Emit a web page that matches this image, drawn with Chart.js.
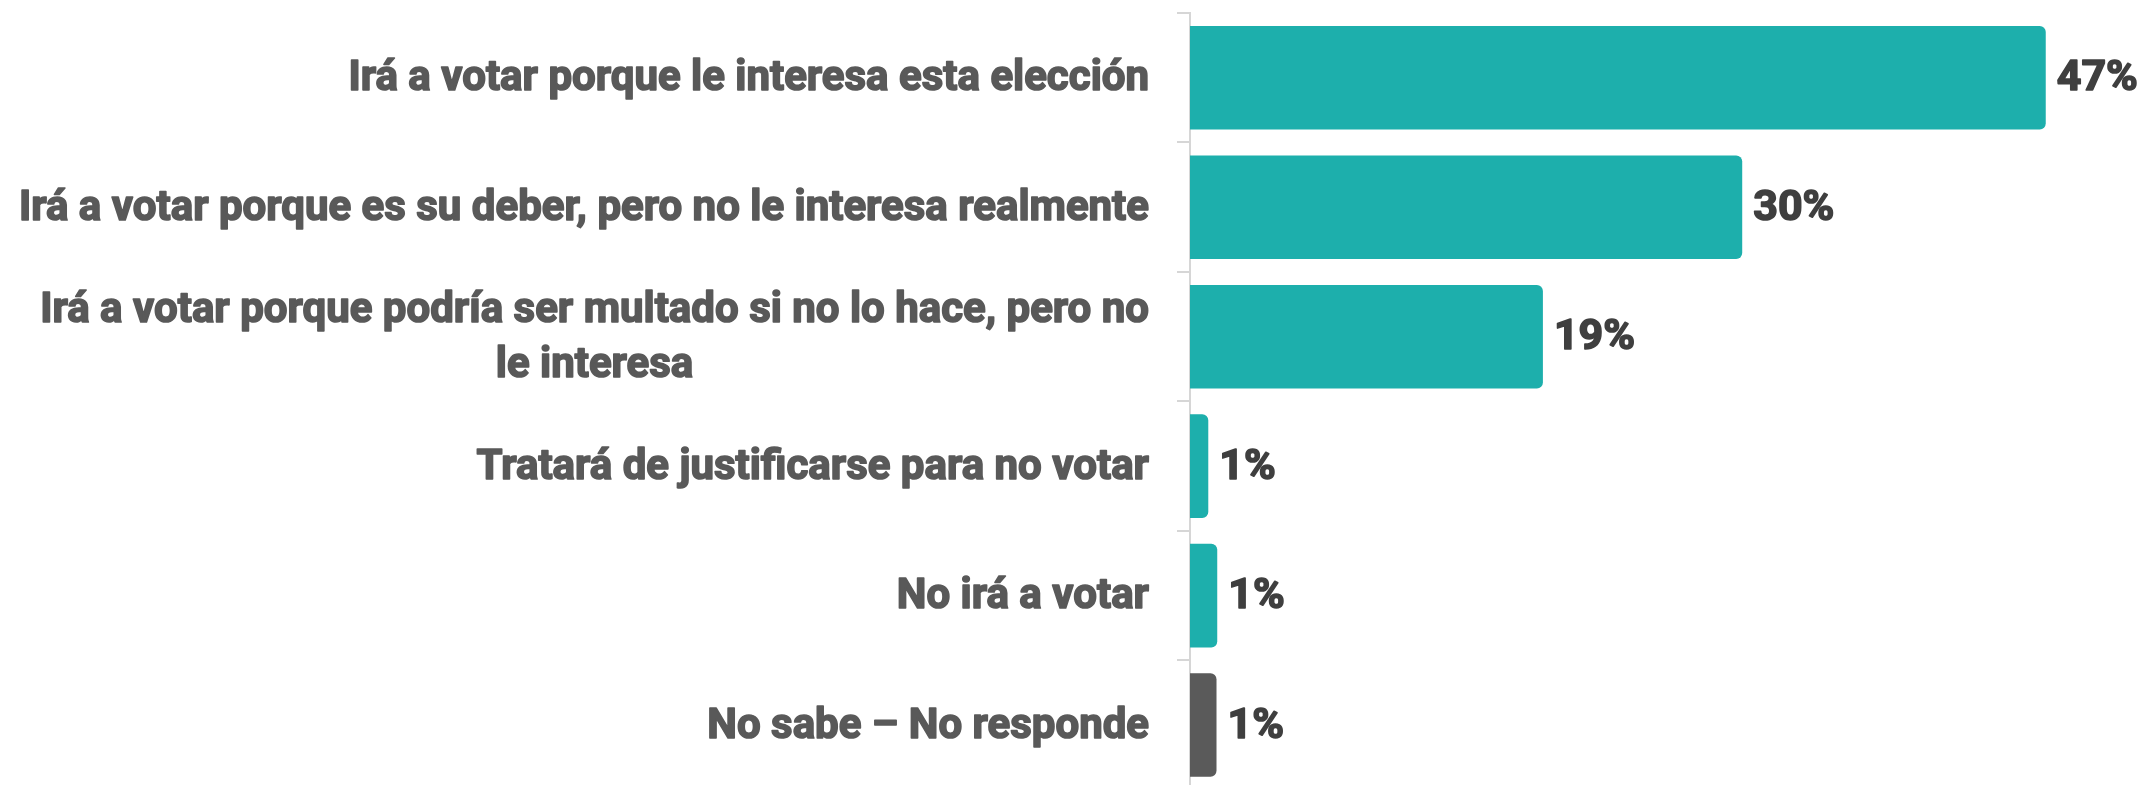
<!DOCTYPE html>
<html>
<head>
<meta charset="utf-8">
<script src="https://cdn.jsdelivr.net/npm/chart.js@4.4.1/dist/chart.umd.min.js"></script>
<style>
  html, body { margin: 0; padding: 0; background: #fff; overflow: hidden; }
  .wrap { position: relative; width: 2139px; height: 800px; }
</style>
</head>
<body>
<div class="wrap"><canvas id="chart"></canvas></div>
<script>
const categories = [
    ["Irá a votar porque le interesa esta elección"],
    ["Irá a votar porque es su deber, pero no le interesa realmente"],
    ["Irá a votar porque podría ser multado si no lo hace, pero no", "le interesa"],
    ["Tratará de justificarse para no votar"],
    ["No irá a votar"],
    ["No sabe – No responde"]
];
const values = [46.8, 30.2, 19.3, 1.0, 1.49, 1.45];
const barColors = ["#1dafac", "#1dafac", "#1dafac", "#1dafac", "#1dafac", "#5a5a5a"];

const labelFont = "bold 42px Roboto";
const valueFont = "bold 43px Roboto";

// draws the category labels (lines centred within a right-aligned block) and the value labels
const textPlugin = {
    id: "texts",
    afterDatasetsDraw(chart) {
        const { ctx } = chart;
        const yScale = chart.scales.y;
        const right = chart.chartArea.left - 41;
        ctx.save();
        ctx.textBaseline = "middle";
        ctx.lineJoin = "round";
        ctx.fillStyle = "#595959";
        ctx.strokeStyle = "#595959";
        ctx.lineWidth = 1.6;
        ctx.font = labelFont;
        categories.forEach((lines, i) => {
            const y = yScale.getPixelForTick(i);
            const blockW = Math.max(...lines.map((l) => ctx.measureText(l).width));
            const lh = 55;
            const y0 = y - (lines.length - 1) * lh / 2 + 2;
            lines.forEach((l, j) => {
                ctx.textAlign = "center";
                ctx.fillText(l, right - blockW / 2, y0 + j * lh);
                ctx.strokeText(l, right - blockW / 2, y0 + j * lh);
            });
        });
        ctx.font = valueFont;
        ctx.fillStyle = "#3f3f3f";
        ctx.strokeStyle = "#3f3f3f";
        ctx.textAlign = "left";
        chart.getDatasetMeta(0).data.forEach((bar, i) => {
            const txt = Math.round(values[i]) + "%";
            ctx.fillText(txt, bar.x + 11, bar.y + 2);
            ctx.strokeText(txt, bar.x + 11, bar.y + 2);
        });
        ctx.restore();
    }
};

new Chart(document.getElementById("chart"), {
    type: "bar",
    data: {
        labels: categories,
        datasets: [{
            data: values,
            backgroundColor: barColors,
            borderRadius: 6,
            borderSkipped: "start",
            barPercentage: 1,
            categoryPercentage: 0.8
        }]
    },
    options: {
        indexAxis: "y",
        responsive: true,
        maintainAspectRatio: false,
        animation: false,
        layout: { padding: { top: 13, bottom: 10, left: 0, right: 0 } },
        plugins: {
            legend: { display: false },
            tooltip: { enabled: false }
        },
        scales: {
            x: {
                display: false,
                min: 0,
                max: 51.9
            },
            y: {
                afterFit(scale) { scale.width = 1190; },
                border: { display: true, color: "#d6d6d6", width: 2 },
                grid: {
                    drawOnChartArea: false,
                    drawTicks: true,
                    tickLength: 13,
                    color: "#d6d6d6",
                    lineWidth: 2
                },
                ticks: { color: "rgba(0,0,0,0)", font: { size: 12 } }
            }
        }
    },
    plugins: [textPlugin]
});
</script>
</body>
</html>
